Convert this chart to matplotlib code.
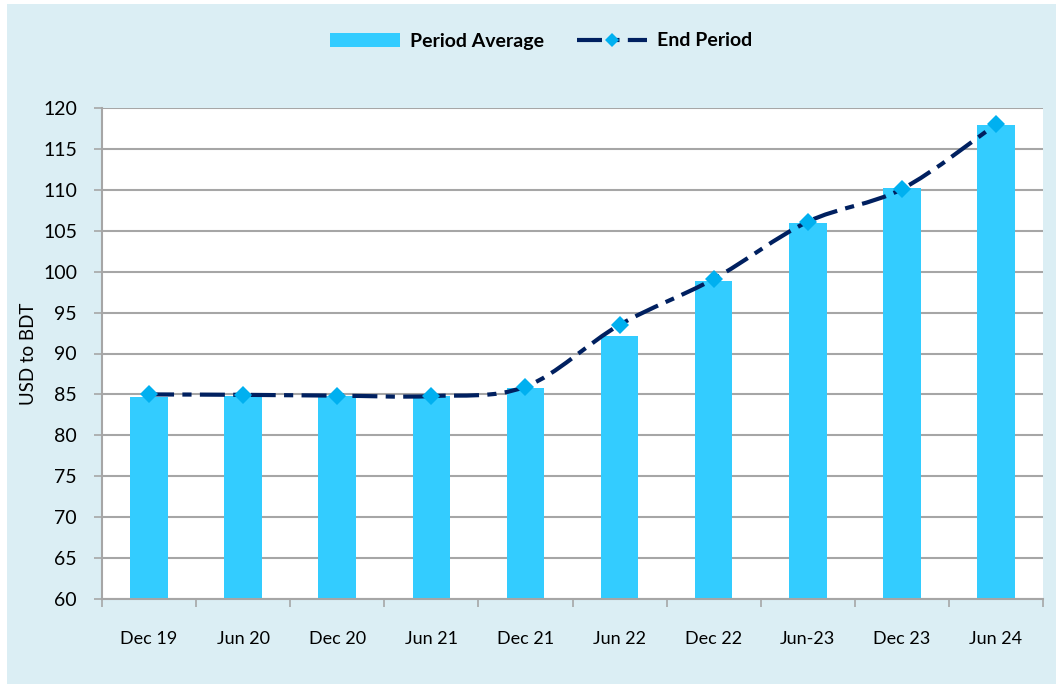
import matplotlib
matplotlib.use("Agg")
import matplotlib.pyplot as plt
from matplotlib.path import Path
from matplotlib.patches import PathPatch, Patch, Rectangle
from matplotlib.lines import Line2D
import numpy as np

categories = ["Dec 19", "Jun 20", "Dec 20", "Jun 21", "Dec 21", "Jun 22",
              "Dec 22", "Jun-23", "Dec 23", "Jun 24"]
period_average = [84.7, 84.85, 84.85, 84.8, 85.8, 92.15, 98.9, 106.0, 110.2, 117.9]
end_period = [85.0, 84.95, 84.85, 84.8, 85.95, 93.5, 99.1, 106.1, 110.1, 118.0]
yticks = list(range(60, 121, 5))

BG = "#DBEEF4"
BAR = "#33CCFF"
LINE = "#002060"
MARK = "#00B0F0"
GRID = "#A6A6A6"

plt.rcParams['font.family'] = ['Lato', 'DejaVu Sans']

W, H = 1056, 684
fig = plt.figure(figsize=(W/100, H/100), dpi=100, facecolor="white")
# light-blue chart area with a thin white strip at left and top
fig.patches.append(Rectangle((7/W, 0), 1 - 7/W, 1 - 4/H, transform=fig.transFigure,
                             facecolor=BG, edgecolor='none', zorder=-5))

ax = fig.add_axes([102/W, 1-599/H, (1043-102)/W, (599-108)/H], zorder=1)
ax.set_facecolor("white")

x = np.arange(len(categories))
ax.bar(x, period_average, width=0.4, color=BAR, zorder=2)

# smoothed line (Excel-style Bezier through the points)
pts = np.column_stack([x, end_period]).astype(float)
n = len(pts)
verts = [tuple(pts[0])]
codes = [Path.MOVETO]
for i in range(n - 1):
    p0 = pts[i - 1] if i > 0 else pts[i]
    p1 = pts[i]
    p2 = pts[i + 1]
    p3 = pts[i + 2] if i + 2 < n else pts[i + 1]
    c1 = p1 + (p2 - p0) / 6.0
    c2 = p2 - (p3 - p1) / 6.0
    verts += [tuple(c1), tuple(c2), tuple(p2)]
    codes += [Path.CURVE4] * 3
lw = 3.0
dash = (6.0, 2.0, 2.2, 2.0)
patch = PathPatch(Path(verts, codes), fill=False, edgecolor=LINE, lw=lw,
                  linestyle=(0, dash), zorder=3, capstyle='butt')
ax.add_patch(patch)
ax.plot(x, end_period, linestyle='none', marker='D', markersize=9.5,
        color=MARK, markeredgewidth=0, zorder=4)

ax.set_xlim(-0.5, len(categories) - 0.5)
ax.set_ylim(60, 120)
ax.set_yticks(yticks)
ax.set_yticklabels([str(v) for v in yticks], fontsize=14, color="#000000")
ax.yaxis.grid(True, color=GRID, lw=1.5, zorder=1)
ax.set_axisbelow(True)

ax.set_xticks(x)
ax.set_xticklabels(categories, fontsize=13)
ax.set_xticks(np.arange(-0.5, len(categories)), minor=True)
ax.tick_params(axis='x', which='major', length=0, pad=23)
ax.tick_params(axis='x', which='minor', length=6, width=1.2, color=GRID, direction='out')
ax.tick_params(axis='y', length=6, width=1.2, color=GRID, direction='out', pad=12)

for s in ['top', 'right']:
    ax.spines[s].set_visible(False)
for s in ['left', 'bottom']:
    ax.spines[s].set_color(GRID)
    ax.spines[s].set_linewidth(1.5)

ax.set_ylabel("USD to BDT", fontsize=13.5, labelpad=4)

handles = [Patch(facecolor=BAR, edgecolor='none'),
           Line2D([0], [0], color=LINE, lw=lw, linestyle=(0, dash),
                  marker='D', markersize=7, markerfacecolor=MARK,
                  markeredgewidth=0)]
leg = fig.legend(handles, ["Period Average", "End Period"], loc='center',
                 bbox_to_anchor=(541/W, 1-41/H), ncol=2, frameon=False,
                 prop={'weight': 'bold', 'size': 14}, handlelength=3.6,
                 handleheight=0.7, columnspacing=1.7, handletextpad=0.5)

fig.savefig("out.png", dpi=100, facecolor="white")
